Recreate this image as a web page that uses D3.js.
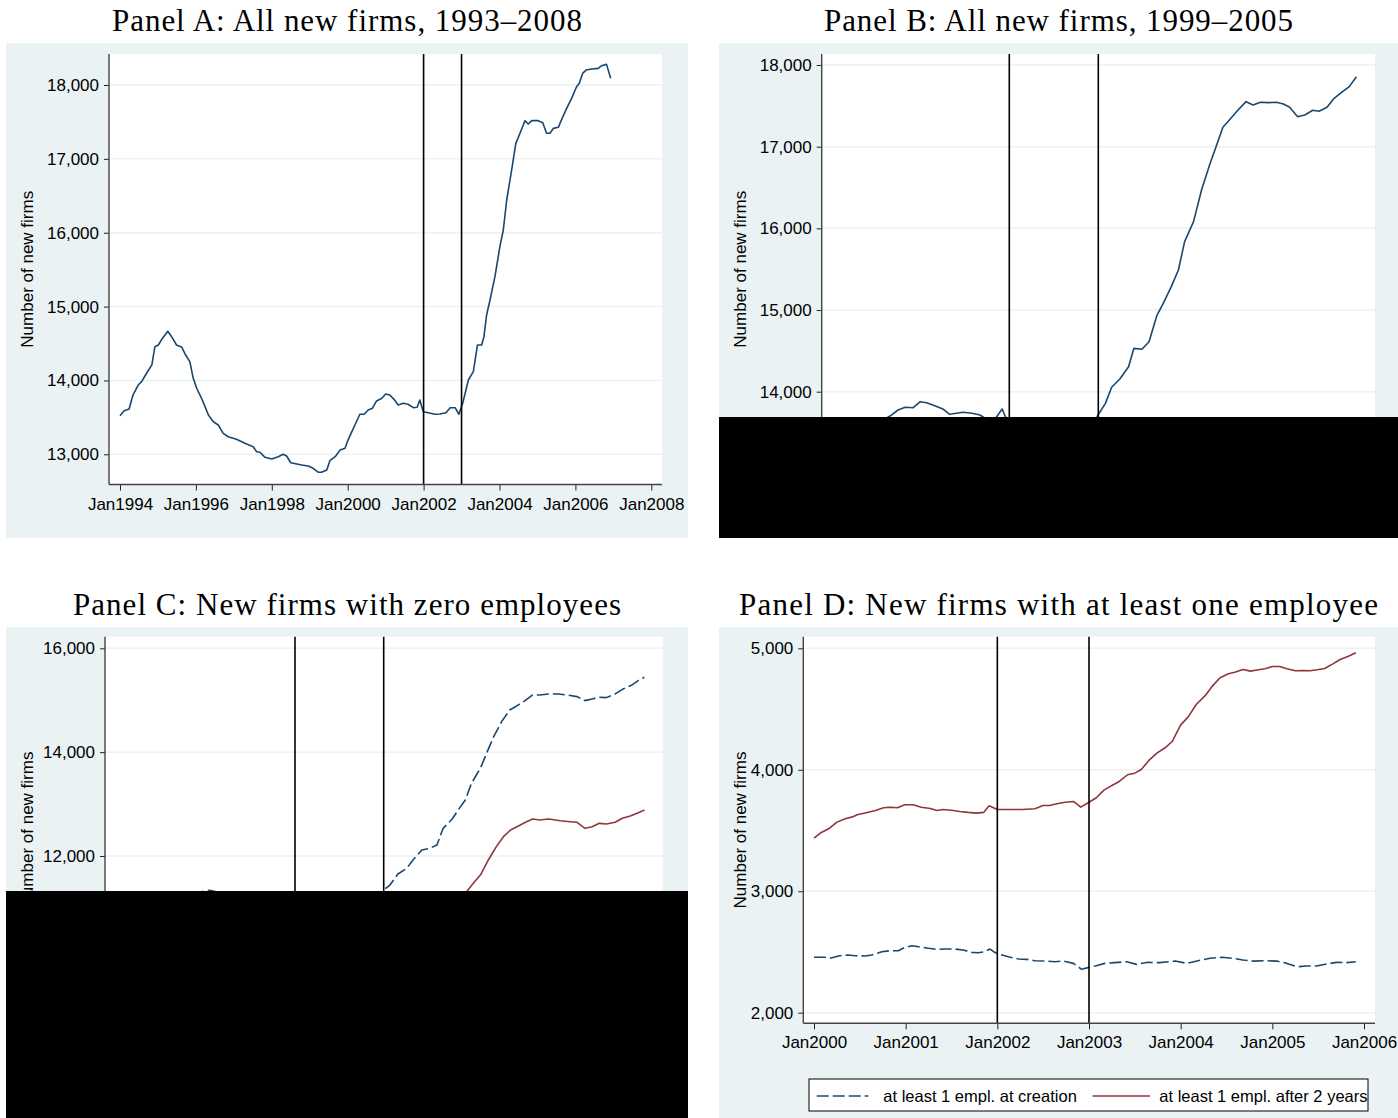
<!DOCTYPE html>
<html>
<head>
<meta charset="utf-8">
<script src="https://cdn.jsdelivr.net/npm/d3@7"></script>
<style>
  body { margin: 0; background: #fff; }
  svg { display: block; }
  .tick text { font-family: "Liberation Sans", Arial, sans-serif; font-size: 17px; fill: #000; }
  .ytitle { font-family: "Liberation Sans", Arial, sans-serif; font-size: 17px; fill: #000; }
  .ptitle { font-family: "Liberation Serif", "Times New Roman", serif; font-size: 31px; fill: #000; }
  .legend text { font-family: "Liberation Sans", Arial, sans-serif; font-size: 16.5px; fill: #000; }
</style>
</head>
<body>
<div id="chart"></div>
<script>
// -----------------------------------------------------------------------
//  Data (decimal years, number of new firms)
// -----------------------------------------------------------------------

// Panel A: all new firms 1994-2006
const yearsA = [1994.00,1994.11,1994.24,1994.34,1994.48,1994.57,1994.70,1994.84,1994.92,1995.01,
  1995.10,1995.26,1995.36,1995.49,1995.63,1995.73,1995.84,1995.93,1996.02,1996.15,
  1996.24,1996.33,1996.46,1996.59,1996.72,1996.85,1997.07,1997.29,1997.51,1997.60,
  1997.69,1997.82,1998.00,1998.17,1998.30,1998.39,1998.50,1998.66,1998.79,1998.96,
  1999.09,1999.23,1999.31,1999.45,1999.53,1999.67,1999.80,1999.93,1999.99,2000.11,
  2000.19,2000.32,2000.43,2000.54,2000.65,2000.76,2000.90,2001.00,2001.11,2001.22,
  2001.33,2001.46,2001.59,2001.73,2001.83,2001.90,2001.99,2002.12,2002.30,2002.43,
  2002.59,2002.70,2002.83,2002.93,2003.03,2003.18,2003.31,2003.42,2003.53,2003.59,
  2003.66,2003.75,2003.88,2004.01,2004.10,2004.19,2004.32,2004.43,2004.54,2004.67,
  2004.76,2004.85,2005.02,2005.14,2005.24,2005.33,2005.42,2005.55,2005.67,2005.77,
  2005.90,2006.03,2006.10,2006.19,2006.28,2006.43,2006.60,2006.69,2006.82,2006.93];
const valuesA = [13523,13590,13613,13800,13938,13983,14097,14210,14457,14480,
  14557,14665,14592,14480,14449,14344,14254,14029,13894,13758,
  13645,13532,13441,13397,13284,13238,13203,13149,13103,13035,
  13027,12959,12936,12968,13000,12977,12886,12869,12855,12842,
  12810,12756,12756,12787,12913,12968,13058,13081,13171,13306,
  13397,13542,13542,13600,13623,13722,13758,13816,13803,13744,
  13667,13690,13677,13631,13636,13735,13577,13563,13542,13546,
  13563,13631,13631,13542,13690,14006,14119,14480,14480,14592,
  14886,15089,15405,15811,16037,16443,16849,17210,17346,17517,
  17472,17517,17517,17490,17346,17346,17413,17427,17571,17684,
  17819,17976,18021,18157,18202,18216,18225,18261,18279,18090];

// Panel B: all new firms 2000-2005
const yearsB = [2000.00,2000.11,2000.19,2000.32,2000.43,2000.54,2000.66,2000.75,2000.83,2000.92,
  2001.00,2001.07,2001.17,2001.26,2001.33,2001.48,2001.58,2001.67,2001.75,2001.83,
  2001.92,2002.00,2002.12,2002.30,2002.43,2002.59,2002.70,2002.83,2002.93,2002.99,
  2003.08,2003.15,2003.24,2003.34,2003.40,2003.49,2003.57,2003.66,2003.73,2003.82,
  2003.90,2003.97,2004.07,2004.16,2004.25,2004.33,2004.40,2004.50,2004.57,2004.66,
  2004.74,2004.82,2004.91,2005.00,2005.08,2005.15,2005.24,2005.32,2005.41,2005.48,
  2005.57,2005.65,2005.73,2005.82,2005.90];
const valuesB = [13171,13306,13397,13542,13560,13630,13702,13776,13809,13804,
  13878,13865,13825,13784,13723,13748,13736,13715,13660,13650,
  13788,13577,13563,13542,13546,13563,13631,13631,13542,13702,
  13857,14054,14152,14306,14531,14519,14612,14939,15082,15286,
  15490,15837,16082,16470,16776,17021,17237,17360,17449,17551,
  17511,17544,17539,17544,17523,17482,17367,17388,17446,17433,
  17482,17592,17661,17735,17857];

// Panel C: zero employees (dashed = at creation, solid = after 2 years)
const yearsC_creation = [2000.00,2000.25,2000.50,2000.75,2001.04,2001.25,2001.50,2001.75,2001.92,2002.00,
  2002.30,2002.60,2002.83,2002.93,2003.00,2003.07,2003.16,2003.26,2003.33,2003.43,
  2003.52,2003.60,2003.67,2003.77,2003.84,2003.92,2003.99,2004.09,2004.16,2004.24,
  2004.33,2004.42,2004.50,2004.59,2004.68,2004.76,2004.86,2004.97,2005.06,2005.18,
  2005.27,2005.35,2005.43,2005.51,2005.61,2005.70,2005.80,2005.87,2005.94];
const valuesC_creation = [10720,10900,11080,11250,11340,11260,11170,11140,11260,11090,
  11100,11140,11190,11130,11345,11441,11653,11763,11923,12116,
  12148,12212,12533,12707,12886,13079,13400,13690,13979,14299,
  14588,14813,14890,14987,15102,15102,15121,15121,15102,15069,
  14992,15025,15058,15050,15121,15218,15295,15378,15443];
const yearsC_after2 = [2000.00,2000.50,2001.00,2001.50,2002.00,2002.50,2003.00,2003.50,2003.75,2003.95,
  2004.01,2004.09,2004.18,2004.27,2004.35,2004.43,2004.54,2004.61,2004.68,2004.76,
  2004.86,2004.99,2005.10,2005.18,2005.27,2005.35,2005.43,2005.51,2005.61,2005.69,
  2005.78,2005.87,2005.94];
const valuesC_after2 = [9740,9940,10110,10010,9900,9850,9950,10550,10900,11345,
  11474,11634,11923,12180,12372,12501,12597,12661,12713,12694,
  12713,12680,12661,12649,12533,12565,12629,12617,12649,12726,
  12771,12835,12886];

// Panel D: at least one employee
const yearsD_creation = [2000.00,2000.12,2000.17,2000.28,2000.37,2000.45,2000.56,2000.63,2000.74,2000.83,
  2000.92,2000.99,2001.07,2001.14,2001.25,2001.34,2001.43,2001.54,2001.63,2001.72,
  2001.79,2001.86,2001.92,2001.96,2002.01,2002.12,2002.23,2002.32,2002.41,2002.52,
  2002.63,2002.72,2002.83,2002.92,2003.00,2003.08,2003.17,2003.28,2003.41,2003.52,
  2003.63,2003.77,2003.94,2004.07,2004.19,2004.32,2004.45,2004.57,2004.68,2004.79,
  2004.92,2005.05,2005.16,2005.27,2005.37,2005.48,2005.59,2005.70,2005.81,2005.91];
const valuesD_creation = [2456,2456,2448,2469,2475,2469,2467,2475,2502,2510,
  2510,2538,2551,2543,2530,2521,2524,2524,2516,2497,
  2494,2502,2524,2502,2483,2461,2442,2439,2428,2425,
  2420,2425,2406,2357,2373,2387,2406,2412,2420,2398,
  2414,2412,2425,2406,2428,2448,2456,2448,2434,2425,
  2428,2425,2406,2378,2384,2384,2401,2414,2412,2420];
const yearsD_after2 = [2000.00,2000.08,2000.16,2000.25,2000.34,2000.41,2000.48,2000.57,2000.67,2000.76,
  2000.83,2000.91,2000.99,2001.08,2001.17,2001.27,2001.34,2001.41,2001.50,2001.59,
  2001.68,2001.77,2001.85,2001.91,2002.00,2002.12,2002.27,2002.41,2002.50,2002.57,
  2002.65,2002.74,2002.83,2002.91,2003.00,2003.08,2003.16,2003.25,2003.33,2003.42,
  2003.50,2003.57,2003.66,2003.74,2003.83,2003.91,2004.00,2004.08,2004.17,2004.27,
  2004.35,2004.43,2004.52,2004.59,2004.68,2004.76,2004.85,2004.92,2005.00,2005.08,
  2005.16,2005.25,2005.33,2005.41,2005.49,2005.57,2005.66,2005.74,2005.83,2005.91];
const valuesD_after2 = [3437,3484,3514,3569,3597,3610,3632,3646,3665,3687,
  3692,3687,3712,3712,3692,3681,3665,3673,3667,3657,
  3649,3643,3649,3704,3673,3673,3673,3679,3706,3706,
  3720,3733,3739,3692,3733,3770,3830,3871,3904,3959,
  3972,4002,4082,4137,4181,4235,4370,4433,4537,4612,
  4693,4757,4790,4803,4826,4812,4823,4831,4850,4850,
  4831,4815,4817,4815,4823,4834,4872,4908,4935,4963];

// tick labels
const xTicksA = [1994, 1996, 1998, 2000, 2002, 2004, 2006, 2008];
const xTicksBCD = [2000, 2001, 2002, 2003, 2004, 2005, 2006];
const yTicksA = [13000, 14000, 15000, 16000, 17000, 18000];
const yTicksB = [13000, 14000, 15000, 16000, 17000, 18000];
const yTicksC = [10000, 12000, 14000, 16000];
const yTicksD = [2000, 3000, 4000, 5000];
const eventYears = [2002, 2003]; // vertical reference lines

const legendLabels = ["at least 1 empl. at creation", "at least 1 empl. after 2 years"];

// -----------------------------------------------------------------------
//  Layout
// -----------------------------------------------------------------------
const W = 1398, H = 1118;
const navy = "#1a476f", maroon = "#90353b";
const bgColor = "#eaf2f3";

// box: [left, top, right, bottom]
const panels = [
  { title: "Panel A: All new firms, 1993–2008", titleX: 347, titleY: 31, titleW: 470,
    bg: [6, 43, 688, 538], plot: [109, 54, 662, 484.5],
    xDomain: [1994, 2008], xRange: [120, 651.3], xTicks: xTicksA,
    yDomain: [13000, 18000], yRange: [454.3, 85], yTicks: yTicksA, yTitleX: 33,
    series: [{ x: yearsA, y: valuesA, color: navy, dash: null }] },
  { title: "Panel B: All new firms, 1999–2005", titleX: 1058.5, titleY: 31, titleW: 469,
    bg: [719, 43, 1398, 538], plot: [821.7, 54, 1375, 484.5],
    xDomain: [2000, 2006], xRange: [831.3, 1365.3], xTicks: xTicksBCD,
    yDomain: [14000, 18000], yRange: [391.7, 65], yTicks: yTicksB, yTitleX: 746,
    series: [{ x: yearsB, y: valuesB, color: navy, dash: null }] },
  { title: "Panel C: New firms with zero employees", titleX: 347, titleY: 615, titleW: 548,
    bg: [6, 627, 688, 1118], plot: [105, 636.7, 662.7, 1023.3],
    xDomain: [2000, 2006], xRange: [117.6, 649.8], xTicks: xTicksBCD,
    yDomain: [12000, 16000], yRange: [856, 648.3], yTicks: yTicksC, yTitleX: 33,
    series: [{ x: yearsC_creation, y: valuesC_creation, color: navy, dash: "12,4" },
             { x: yearsC_after2, y: valuesC_after2, color: maroon, dash: null }] },
  { title: "Panel D: New firms with at least one employee", titleX: 1058.5, titleY: 615, titleW: 639,
    bg: [719, 627, 1398, 1118], plot: [803.3, 636.7, 1375, 1023.3],
    xDomain: [2000, 2006], xRange: [814, 1364], xTicks: xTicksBCD,
    yDomain: [2000, 5000], yRange: [1012.7, 648.3], yTicks: yTicksD, yTitleX: 746,
    series: [{ x: yearsD_creation, y: valuesD_creation, color: navy, dash: "12,4" },
             { x: yearsD_after2, y: valuesD_after2, color: maroon, dash: null }],
    legend: true }
];

// black boxes that hide parts of panels B and C in the original
const blackouts = [[719, 417, 1398, 538], [6, 891, 688, 1118]];

const svg = d3.select("#chart").append("svg")
  .attr("width", W).attr("height", H);

svg.append("rect").attr("width", W).attr("height", H).attr("fill", "#fff");

function drawPanel(p) {
  const g = svg.append("g");
  const [bl, bt, br, bb] = p.bg;
  const [pl, pt, pr, pb] = p.plot;

  g.append("rect").attr("x", bl).attr("y", bt).attr("width", br - bl).attr("height", bb - bt)
    .attr("fill", bgColor);
  g.append("rect").attr("x", pl).attr("y", pt).attr("width", pr - pl).attr("height", pb - pt)
    .attr("fill", "#fff");

  const x = d3.scaleLinear().domain(p.xDomain).range(p.xRange);
  const y = d3.scaleLinear().domain(p.yDomain).range(p.yRange);

  // gridlines
  g.selectAll(".grid").data(p.yTicks).enter().append("line")
    .attr("x1", pl).attr("x2", pr)
    .attr("y1", d => y(d)).attr("y2", d => y(d))
    .attr("stroke", bgColor).attr("stroke-width", 1.5);

  // series
  const line = d3.line().x(d => x(d[0])).y(d => y(d[1]));
  p.series.forEach(s => {
    g.append("path")
      .datum(d3.zip(s.x, s.y))
      .attr("d", line)
      .attr("fill", "none")
      .attr("stroke", s.color)
      .attr("stroke-width", 1.6)
      .attr("stroke-linejoin", "round")
      .attr("stroke-dasharray", s.dash);
  });

  // event lines
  g.selectAll(".event").data(eventYears).enter().append("line")
    .attr("x1", d => x(d)).attr("x2", d => x(d))
    .attr("y1", pt).attr("y2", pb)
    .attr("stroke", "#000").attr("stroke-width", 1.6);

  // axes
  const yAxis = g.append("g")
    .attr("transform", `translate(${pl},0)`)
    .style("color", "#222")
    .call(d3.axisLeft(y).tickValues(p.yTicks).tickSize(5).tickPadding(5).tickFormat(d3.format(",")));
  yAxis.select(".domain").remove();

  const xAxis = g.append("g")
    .attr("transform", `translate(0,${pb})`)
    .style("color", "#222")
    .call(d3.axisBottom(x).tickValues(p.xTicks).tickSize(6).tickPadding(7).tickFormat(d => "Jan" + d));
  xAxis.select(".domain").remove();

  g.append("line").attr("x1", pl).attr("x2", pl).attr("y1", pt).attr("y2", pb)
    .attr("stroke", "#444").attr("stroke-width", 1.4);
  g.append("line").attr("x1", pl).attr("x2", pr).attr("y1", pb).attr("y2", pb)
    .attr("stroke", "#444").attr("stroke-width", 1.4);

  // y title
  g.append("text").attr("class", "ytitle")
    .attr("transform", `translate(${p.yTitleX},${(pt + pb) / 2}) rotate(-90)`)
    .attr("text-anchor", "middle")
    .text("Number of new firms");

  // panel title
  svg.append("text").attr("class", "ptitle")
    .attr("x", p.titleX - p.titleW / 2).attr("y", p.titleY)
    .attr("textLength", p.titleW).attr("lengthAdjust", "spacing")
    .text(p.title);

  if (p.legend) {
    const lg = g.append("g").attr("class", "legend");
    lg.append("rect").attr("x", 809).attr("y", 1079).attr("width", 559).attr("height", 32)
      .attr("fill", "#fff").attr("stroke", "#000").attr("stroke-width", 1);
    const items = [
      { x0: 816.7, x1: 868.3, tx: 883.3, s: p.series[0] },
      { x0: 1092.7, x1: 1150, tx: 1159.3, s: p.series[1] }
    ];
    items.forEach((it, i) => {
      lg.append("line").attr("x1", it.x0).attr("x2", it.x1).attr("y1", 1096).attr("y2", 1096)
        .attr("stroke", it.s.color).attr("stroke-width", 1.6).attr("stroke-dasharray", it.s.dash);
      lg.append("text").attr("x", it.tx).attr("y", 1102).text(legendLabels[i]);
    });
  }
}

panels.forEach(drawPanel);

blackouts.forEach(b => {
  svg.append("rect").attr("x", b[0]).attr("y", b[1])
    .attr("width", b[2] - b[0]).attr("height", b[3] - b[1]).attr("fill", "#000");
});
</script>
</body>
</html>
